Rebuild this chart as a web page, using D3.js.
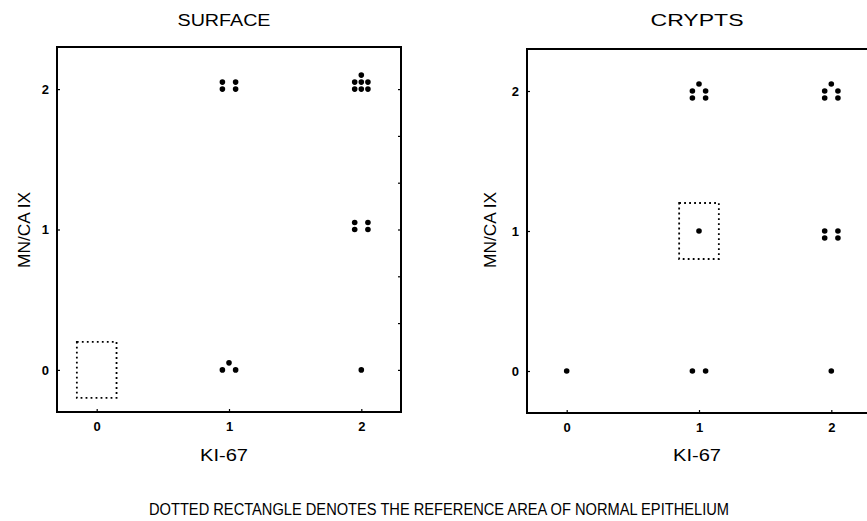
<!DOCTYPE html>
<html>
<head>
<meta charset="utf-8">
<script src="https://cdn.jsdelivr.net/npm/d3@7"></script>
<style>
  html, body { margin: 0; padding: 0; background: #fff; }
  svg { display: block; }
  text { font-family: Arial, "Liberation Sans", sans-serif; fill: #000; }
</style>
</head>
<body>
<svg id="chart" width="867" height="521"></svg>
<script>
// ---- data (values as plotted; small offsets separate coincident observations) ----
const tickValues = [0, 1, 2];
const panelTitles = ["SURFACE", "CRYPTS"];
const xLabel = "KI-67";
const yLabel = "MN/CA IX";
const footnote = "DOTTED RECTANGLE DENOTES THE REFERENCE AREA OF NORMAL EPITHELIUM";

const surfaceKi67 = [0.95, 1.05, 0.95, 1.05,
                     1.95, 2.0, 2.05, 1.95, 2.0, 2.05, 2.0,
                     1.95, 2.05, 1.95, 2.05,
                     0.95, 1.05, 1.0,
                     2.0];
const surfaceMnca = [2.0, 2.0, 2.05, 2.05,
                     2.0, 2.0, 2.0, 2.05, 2.05, 2.05, 2.1,
                     1.0, 1.0, 1.05, 1.05,
                     0.0, 0.0, 0.05,
                     0.0];
const surfaceRef = [-0.15, 0.15, -0.2, 0.2]; // x0, x1, y0, y1

const cryptsKi67 = [0.95, 1.05, 0.95, 1.05, 1.0,
                    1.95, 2.05, 1.95, 2.05, 2.0,
                    1.0,
                    1.95, 2.05, 1.95, 2.05,
                    0.0, 0.95, 1.05, 2.0];
const cryptsMnca = [1.95, 1.95, 2.0, 2.0, 2.05,
                    1.95, 1.95, 2.0, 2.0, 2.05,
                    1.0,
                    0.95, 0.95, 1.0, 1.0,
                    0.0, 0.0, 0.0, 0.0];
const cryptsRef = [0.85, 1.15, 0.8, 1.2];

const domain = [-0.3, 2.3];
const minorRight = [0, 1/3, 2/3, 1, 4/3, 5/3, 2];

// ---- layout ----
const svg = d3.select("#chart");
const panels = [
  { title: panelTitles[0], xs: surfaceKi67, ys: surfaceMnca, ref: surfaceRef,
    left: 57, right: 401, top: 47, bottom: 412, titleX: 224, labelX: 224, yLabelX: 30, minor: true },
  { title: panelTitles[1], xs: cryptsKi67, ys: cryptsMnca, ref: cryptsRef,
    left: 527, right: 871, top: 49, bottom: 413, titleX: 697, labelX: 697, yLabelX: 496, minor: false }
];

panels.forEach(p => {
  const x = d3.scaleLinear().domain(domain).range([p.left, p.right]);
  const y = d3.scaleLinear().domain(domain).range([p.bottom, p.top]);
  const g = svg.append("g");

  // frame
  g.append("rect")
    .attr("x", p.left).attr("y", p.top)
    .attr("width", p.right - p.left).attr("height", p.bottom - p.top)
    .attr("fill", "none").attr("stroke", "#000").attr("stroke-width", 2);

  // axes
  const xAxis = g.append("g").attr("transform", `translate(0,${p.bottom})`)
    .call(d3.axisBottom(x).tickValues(tickValues).tickFormat(d3.format("d")).tickSize(-3).tickPadding(10));
  const yAxis = g.append("g").attr("transform", `translate(${p.left},0)`)
    .call(d3.axisLeft(y).tickValues(tickValues).tickFormat(d3.format("d")).tickSize(-3).tickPadding(8));
  [xAxis, yAxis].forEach(a => {
    a.select(".domain").remove();
    a.selectAll(".tick line").attr("stroke", "#000").attr("stroke-width", 1.2);
    a.selectAll(".tick text").attr("font-size", 13).attr("font-weight", "bold")
      .attr("font-family", "Arial, 'Liberation Sans', sans-serif").attr("fill", "#000");
  });

  if (p.minor) {
    const r = g.append("g").attr("transform", `translate(${p.right},0)`)
      .call(d3.axisRight(y).tickValues(minorRight).tickSize(-3).tickFormat(""));
    r.select(".domain").remove();
    r.selectAll(".tick line").attr("stroke", "#000").attr("stroke-width", 1.2);
  }

  // reference rectangle
  g.append("rect")
    .attr("x", x(p.ref[0])).attr("y", y(p.ref[3]))
    .attr("width", x(p.ref[1]) - x(p.ref[0])).attr("height", y(p.ref[2]) - y(p.ref[3]))
    .attr("fill", "none").attr("stroke", "#000").attr("stroke-width", 1.8)
    .attr("stroke-dasharray", "1.8,3.2");

  // points
  g.selectAll("circle.pt").data(d3.range(p.xs.length)).join("circle")
    .attr("class", "pt")
    .attr("cx", i => x(p.xs[i])).attr("cy", i => y(p.ys[i]))
    .attr("r", 2.8).attr("fill", "#000");

  // titles and labels
  g.append("text").attr("x", p.titleX).attr("y", 26)
    .attr("text-anchor", "middle").attr("font-size", 16)
    .attr("textLength", 93).attr("lengthAdjust", "spacingAndGlyphs").text(p.title);
  g.append("text").attr("x", p.labelX).attr("y", 461)
    .attr("text-anchor", "middle").attr("font-size", 16)
    .attr("textLength", 48).attr("lengthAdjust", "spacingAndGlyphs").text(xLabel);
  g.append("text")
    .attr("transform", `translate(${p.yLabelX},230) rotate(-90)`)
    .attr("text-anchor", "middle").attr("font-size", 16)
    .attr("textLength", 76).attr("lengthAdjust", "spacingAndGlyphs").text(yLabel);
});

svg.append("text").attr("x", 439).attr("y", 515)
  .attr("text-anchor", "middle").attr("font-size", 16)
  .attr("textLength", 580).attr("lengthAdjust", "spacingAndGlyphs").text(footnote);
</script>
</body>
</html>
